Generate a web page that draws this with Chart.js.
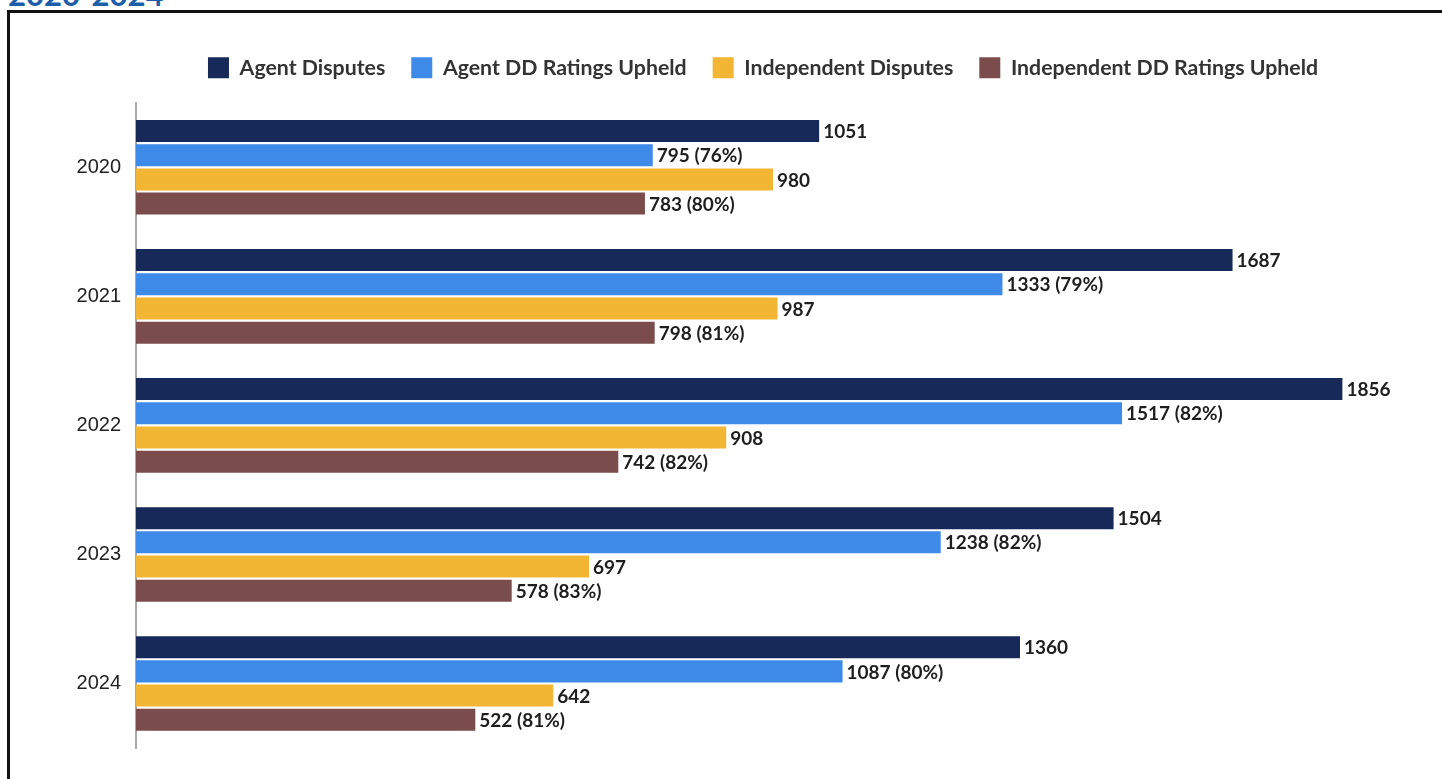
<!DOCTYPE html>
<html>
<head>
<meta charset="utf-8">
<script src="https://cdn.jsdelivr.net/npm/chart.js@4"></script>
<style>
  html, body { margin: 0; padding: 0; background: #fff; overflow: hidden; width: 1442px; height: 779px; }
  #title { position: absolute; left: 8px; top: -25px; font: bold 31px Lato, sans-serif; color: #1d5ea8; white-space: nowrap; }
  #frame { position: absolute; left: 7px; top: 10px; width: 2000px; height: 2000px; border-top: 3px solid #111; border-left: 3px solid #111; }
  #wrap { position: absolute; left: 12px; top: 14px; width: 1489px; height: 765px; }
</style>
</head>
<body>
<div id="title">2020-2024</div>
<div id="frame"></div>
<div id="wrap"><canvas id="chart"></canvas></div>
<script>
const years = ['2020', '2021', '2022', '2023', '2024'];

const agentDisputes        = [1051, 1687, 1856, 1504, 1360];
const agentUpheld          = [795, 1333, 1517, 1238, 1087];
const agentUpheldPct       = [76, 79, 82, 82, 80];
const independentDisputes  = [980, 987, 908, 697, 642];
const independentUpheld    = [783, 798, 742, 578, 522];
const independentUpheldPct = [80, 81, 82, 83, 81];

const seriesNames  = ['Agent Disputes', 'Agent DD Ratings Upheld', 'Independent Disputes', 'Independent DD Ratings Upheld'];
const seriesColors = ['#172958', '#3e8ae8', '#f2b534', '#7b4c4c'];

// value labels at the end of each bar
const barLabels = {
    id: 'barLabels',
    afterDatasetsDraw(chart) {
        const ctx = chart.ctx;
        ctx.save();
        ctx.font = 'bold 19px Lato, sans-serif';
        ctx.fillStyle = '#1e1e1e';
        ctx.textAlign = 'left';
        ctx.textBaseline = 'middle';
        chart.data.datasets.forEach((ds, i) => {
            chart.getDatasetMeta(i).data.forEach((el, j) => {
                let txt = String(ds.data[j]);
                if (ds.pct) txt += ' (' + ds.pct[j] + '%)';
                ctx.fillText(txt, el.x + 4, el.y + 1);
            });
        });
        ctx.restore();
    }
};

// extra room under the legend
const legendSpace = {
    id: 'legendSpace',
    beforeInit(chart) {
        const fit = chart.legend.fit;
        chart.legend.fit = function () {
            fit.bind(chart.legend)();
            this.height += 14.5;
        };
    }
};

new Chart(document.getElementById('chart'), {
    type: 'bar',
    data: {
        labels: years,
        datasets: [
            { label: seriesNames[0], data: agentDisputes,       backgroundColor: seriesColors[0] },
            { label: seriesNames[1], data: agentUpheld,         backgroundColor: seriesColors[1], pct: agentUpheldPct },
            { label: seriesNames[2], data: independentDisputes, backgroundColor: seriesColors[2] },
            { label: seriesNames[3], data: independentUpheld,   backgroundColor: seriesColors[3], pct: independentUpheldPct }
        ]
    },
    options: {
        indexAxis: 'y',
        responsive: true,
        maintainAspectRatio: false,
        animation: false,
        datasets: { bar: { categoryPercentage: 0.75, barPercentage: 0.91 } },
        layout: { padding: { top: 17, left: 13, right: 0, bottom: 31 } },
        scales: {
            x: { display: false, min: 0, max: 2100 },
            y: {
                grid: { display: false, drawTicks: false },
                border: { display: true, color: '#a8a8a8', width: 2 },
                ticks: { padding: 15, color: '#222', font: { family: '"Liberation Sans", Arial, sans-serif', size: 20 } },
                afterFit: s => { s.width = 111; }
            }
        },
        plugins: {
            legend: {
                position: 'top',
                labels: {
                    boxWidth: 21,
                    boxHeight: 21,
                    padding: 26,
                    color: '#333',
                    font: { family: 'Lato, sans-serif', size: 21.3, weight: 'bold' }
                }
            },
            tooltip: { enabled: false }
        }
    },
    plugins: [barLabels, legendSpace]
});
</script>
</body>
</html>
